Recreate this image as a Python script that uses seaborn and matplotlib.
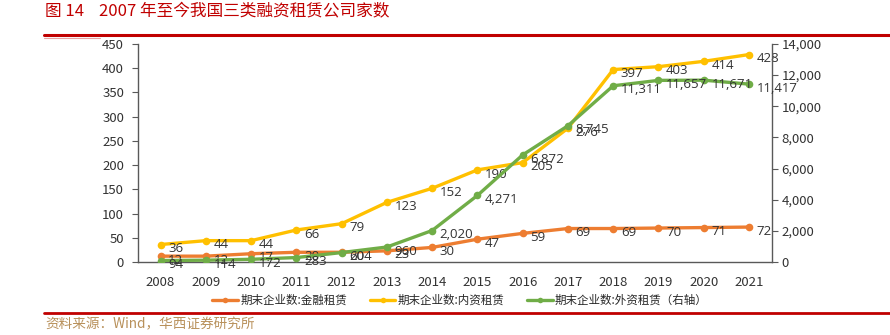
import matplotlib
matplotlib.use("Agg")
import matplotlib.pyplot as plt
import matplotlib.lines as mlines
import matplotlib.ticker as mticker
import seaborn as sns
import pandas as pd

years = [2008, 2009, 2010, 2011, 2012, 2013, 2014, 2015, 2016, 2017, 2018, 2019, 2020, 2021]
finance_lease = [12, 12, 17, 20, 20, 23, 30, 47, 59, 69, 69, 70, 71, 72]
domestic_lease = [36, 44, 44, 66, 79, 123, 152, 190, 205, 276, 397, 403, 414, 428]
foreign_lease = [94, 114, 172, 283, 604, 960, 2020, 4271, 6872, 8745, 11311, 11657, 11671, 11417]

series_names = ["期末企业数:金融租赁", "期末企业数:内资租赁", "期末企业数:外资租赁（右轴）"]
colors = ["#ED7D31", "#FFC000", "#70AD47"]

sns.set_theme(style="white")
plt.rcParams["font.family"] = ["Noto Sans CJK SC", "DejaVu Sans"]

fig = plt.figure(figsize=(8.9, 3.35), dpi=100)
ax = fig.add_axes([0.155, 0.218, 0.712, 0.651])
ax2 = ax.twinx()

df = pd.DataFrame({"year": years, "fin": finance_lease, "dom": domestic_lease, "for": foreign_lease})

sns.lineplot(data=df, x="year", y="fin", ax=ax, color=colors[0], lw=2.4,
             marker="o", markersize=5.5, markeredgewidth=0)
sns.lineplot(data=df, x="year", y="dom", ax=ax, color=colors[1], lw=2.4,
             marker="o", markersize=5.5, markeredgewidth=0)
sns.lineplot(data=df, x="year", y="for", ax=ax2, color=colors[2], lw=2.4,
             marker="o", markersize=5.5, markeredgewidth=0)

label_color = "#333333"
for a, vals, fmt in [(ax, finance_lease, "{:d}"), (ax, domestic_lease, "{:d}"), (ax2, foreign_lease, "{:,}")]:
    for x, v in zip(years, vals):
        a.annotate(fmt.format(v), (x, v), xytext=(5.5, -3), textcoords="offset points",
                   ha="left", va="center", fontsize=9.5, color=label_color,
                   family=["Open Sans", "DejaVu Sans"])

ax.set_xlim(2007.5, 2021.5)
ax.set_ylim(0, 450)
ax2.set_ylim(0, 14000)
ax.set_xticks(years)
ax.set_xticklabels([str(y) for y in years])
ax.yaxis.set_major_locator(mticker.MultipleLocator(50))
ax2.yaxis.set_major_locator(mticker.MultipleLocator(2000))
ax2.yaxis.set_major_formatter(mticker.FuncFormatter(lambda v, p: f"{int(v):,}"))
ax.set_xlabel("")
ax.set_ylabel("")
ax2.set_ylabel("")

spine_color = "#595959"
for a in (ax, ax2):
    for s in a.spines.values():
        s.set_visible(False)
ax.spines["left"].set_visible(True)
ax.spines["bottom"].set_visible(True)
ax2.spines["right"].set_visible(True)
for s in (ax.spines["left"], ax.spines["bottom"], ax2.spines["right"]):
    s.set_color(spine_color)
    s.set_linewidth(1.0)

ax.tick_params(axis="y", which="major", left=True, length=4, width=0.8, color=spine_color,
               labelsize=9.5, labelcolor="#333333", pad=6)
ax.tick_params(axis="x", bottom=False, labelsize=9.5, labelcolor="#333333", pad=4)
ax2.tick_params(axis="y", right=True, length=4, width=0.8, color=spine_color,
                labelsize=9.5, labelcolor="#333333", pad=3)
ax.grid(False)
ax2.grid(False)

handles = [mlines.Line2D([], [], color=c, lw=2.4, marker="o", markersize=4, markeredgewidth=0)
           for c in colors]
fig.legend(handles, series_names, loc="center", bbox_to_anchor=(0.517, 0.104), ncol=3,
           frameon=False, fontsize=8.3, handlelength=2.2, handletextpad=0.2, columnspacing=2.0)

# heading, rules and source line
fig.text(45 / 890, 1 - 12 / 335, "图 14    2007 年至今我国三类融资租赁公司家数", ha="left", va="center",
         fontsize=12, color="#C00000")
fig.add_artist(mlines.Line2D([44 / 890, 1.0], [1 - 35 / 335] * 2, color="#C00000", lw=2.2))
fig.add_artist(mlines.Line2D([44 / 890, 100 / 890], [1 - 37.5 / 335] * 2, color="#E8A0A0", lw=0.8))
fig.add_artist(mlines.Line2D([44 / 890, 1.0], [1 - 313 / 335] * 2, color="#C00000", lw=2.0))
fig.text(45 / 890, 1 - 324 / 335, "资料来源：Wind，华西证券研究所", ha="left", va="center",
         fontsize=9.8, color="#B8905A")

fig.savefig("out.png", dpi=100)
